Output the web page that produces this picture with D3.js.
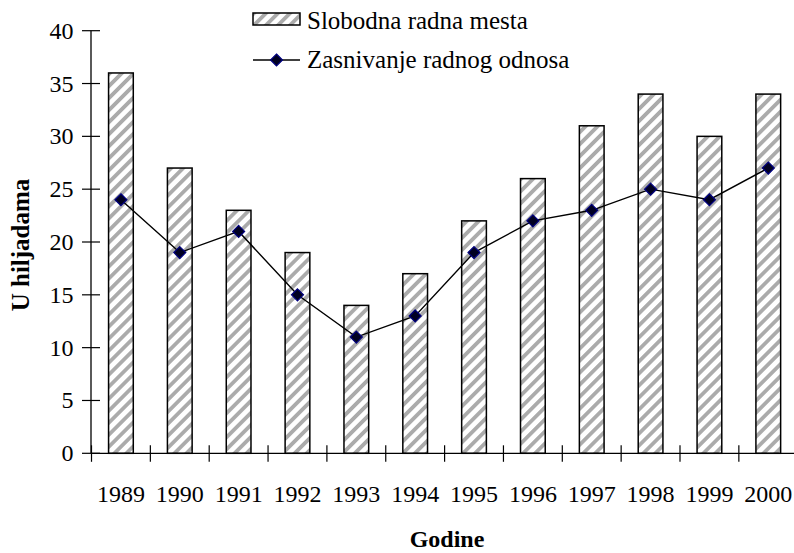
<!DOCTYPE html>
<html><head><meta charset="utf-8">
<script src="https://cdn.jsdelivr.net/npm/d3@7"></script>
</head><body style="margin:0">
<script>
const years = ["1989","1990","1991","1992","1993","1994","1995","1996","1997","1998","1999","2000"];
const vacancies = [36,27,23,19,14,17,22,26,31,34,30,34];
const hires = [24,19,21,15,11,13,19,22,23,25,24,27];
const yTicks = [0,5,10,15,20,25,30,35,40];
const legendLabels = ["Slobodna radna mesta","Zasnivanje radnog odnosa"];
const xTitle = "Godine", yTitle = "U hiljadama";

const FONT = "'Liberation Serif'";
const W = 794, H = 553;
const left = 91.5, step = 58.85, y0 = 453.3, yTop = 30.7;
const svg = d3.select("body").append("svg").attr("width", W).attr("height", H)
  .attr("font-family", "Liberation Serif").style("display","block");

function txt(sel, size){ return sel.attr("font-family","Liberation Serif").style("font-family",FONT).style("font-size",(size||24)+"px").attr("fill","#000"); }

const defs = svg.append("defs");
const pat = defs.append("pattern").attr("id","hatch").attr("patternUnits","userSpaceOnUse")
  .attr("width",8.5).attr("height",8.5).attr("patternTransform","rotate(45)");
pat.append("rect").attr("width",8.5).attr("height",8.5).attr("fill","#fff");
pat.append("rect").attr("x",0).attr("width",3.8).attr("height",8.5).attr("fill","#ababab");

const x = d3.scaleBand().domain(years).range([left, left + 12*step]).paddingInner(0.58).paddingOuter(0.29);
const xb = d3.scaleLinear().domain([0,12]).range([left, left + 12*step]);
const y = d3.scaleLinear().domain([0,40]).range([y0, yTop]);

// bars
svg.append("g").selectAll("rect").data(vacancies).join("rect")
  .attr("x",(d,i)=>x(years[i])).attr("y",d=>y(d))
  .attr("width",x.bandwidth()).attr("height",d=>y(0)-y(d))
  .attr("fill","url(#hatch)").attr("stroke","#000").attr("stroke-width",1.5);

// y axis (line + crossing ticks via scale)
svg.append("line").attr("x1",left-0.5).attr("x2",left-0.5).attr("y1",y(40)).attr("y2",y(0))
  .attr("stroke","#000").attr("stroke-width",1.3);
svg.append("g").selectAll("line").data(yTicks).join("line")
  .attr("x1",left-9.5).attr("x2",left+8.5).attr("y1",d=>y(d)).attr("y2",d=>y(d))
  .attr("stroke","#000").attr("stroke-width",1.2);
txt(svg.append("g").selectAll("text").data(yTicks).join("text")
  .attr("x",left-18).attr("y",d=>y(d)+8).attr("text-anchor","end").text(d=>d));

// x axis
svg.append("line").attr("x1",xb(0)-0.5).attr("x2",W).attr("y1",y0).attr("y2",y0)
  .attr("stroke","#000").attr("stroke-width",1.3);
svg.append("g").selectAll("line").data(d3.range(13)).join("line")
  .attr("x1",d=>xb(d)).attr("x2",d=>xb(d)).attr("y1",y0-8).attr("y2",y0+8.5)
  .attr("stroke","#000").attr("stroke-width",1.2);
txt(svg.append("g").selectAll("text").data(years).join("text")
  .attr("x",d=>x(d)+x.bandwidth()/2).attr("y",502).attr("text-anchor","middle").text(d=>d));

// line
const cx = (d,i)=>x(years[i])+x.bandwidth()/2;
svg.append("path").datum(hires)
  .attr("d", d3.line().x(cx).y(d=>y(d)))
  .attr("fill","none").attr("stroke","#000").attr("stroke-width",1.4);
const diamond = "M0,-6L6,0L0,6L-6,0Z";
svg.append("g").selectAll("path").data(hires).join("path")
  .attr("transform",(d,i)=>`translate(${cx(d,i)},${y(d)})`).attr("d",diamond)
  .attr("fill","#000022").attr("stroke","#000080").attr("stroke-width",1.2);

// titles
txt(svg.append("text").attr("x",447).attr("y",547).attr("text-anchor","middle")).style("font-weight","bold").text(xTitle);
txt(svg.append("text").attr("transform","translate(29,245) rotate(-90)").attr("text-anchor","middle"), 25).style("font-weight","bold").text(yTitle);

// legend
const lg = svg.append("g");
lg.append("rect").attr("x",253).attr("y",13).attr("width",47).attr("height",12)
  .attr("fill","url(#hatch)").attr("stroke","#000").attr("stroke-width",1.5);
txt(lg.append("text").attr("x",307).attr("y",29), 25).text(legendLabels[0]);
lg.append("line").attr("x1",253).attr("x2",300).attr("y1",60).attr("y2",60).attr("stroke","#000").attr("stroke-width",1.4);
lg.append("path").attr("transform","translate(276.5,60)").attr("d",diamond)
  .attr("fill","#000022").attr("stroke","#000080").attr("stroke-width",1.2);
txt(lg.append("text").attr("x",307).attr("y",68), 25).text(legendLabels[1]);
</script>
</body></html>
